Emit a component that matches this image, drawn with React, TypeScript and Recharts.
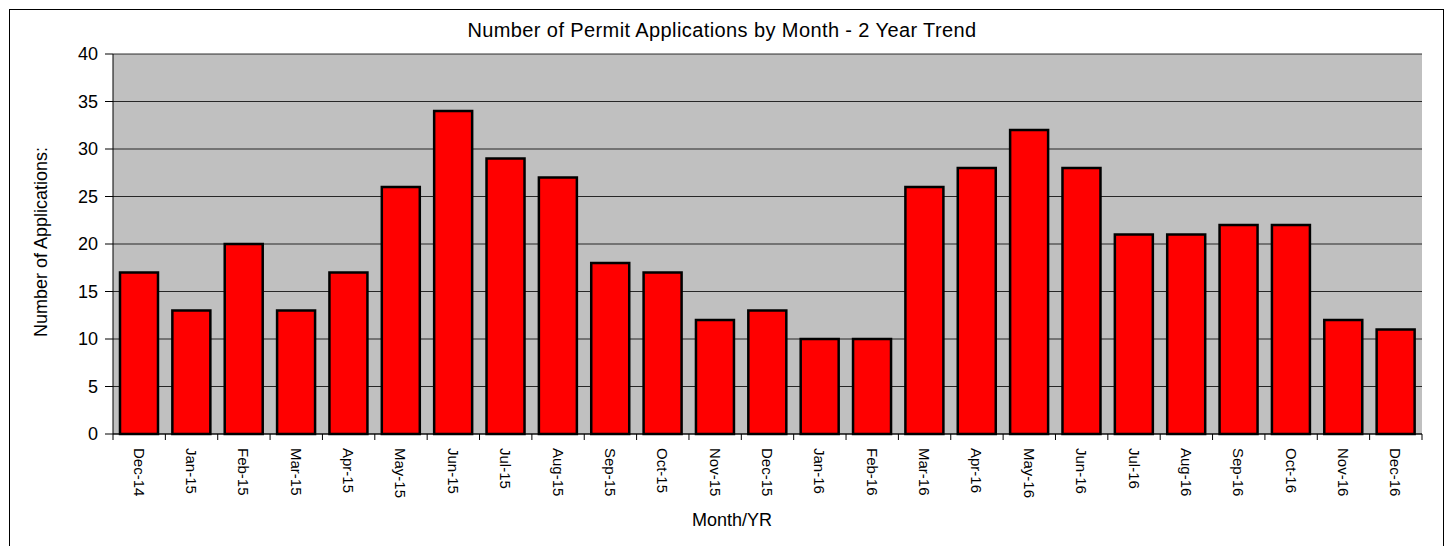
import React from "react";
import { BarChart, Bar, XAxis, YAxis, CartesianGrid } from "recharts";

const months = [
  "Dec-14", "Jan-15", "Feb-15", "Mar-15", "Apr-15", "May-15", "Jun-15", "Jul-15", "Aug-15",
  "Sep-15", "Oct-15", "Nov-15", "Dec-15", "Jan-16", "Feb-16", "Mar-16", "Apr-16", "May-16",
  "Jun-16", "Jul-16", "Aug-16", "Sep-16", "Oct-16", "Nov-16", "Dec-16",
];
const applications = [17, 13, 20, 13, 17, 26, 34, 29, 27, 18, 17, 12, 13, 10, 10, 26, 28, 32, 28, 21, 21, 22, 22, 12, 11];
const yTicks = [0, 5, 10, 15, 20, 25, 30, 35, 40];

const data = months.map((month, i) => ({ month, value: applications[i] }));

const W = 1447;
const H = 546;
const LEFT = 113;
const RIGHT = 25;
const BAND = (W - LEFT - RIGHT) / months.length;
const FONT = "'Liberation Sans', Arial, sans-serif";

// tick marks sit on category boundaries, labels read top-to-bottom
function MonthTick(props: any) {
  const { x, y, payload, index } = props;
  const axisY = y - 14;
  const half = BAND / 2;
  return (
    <g>
      <line x1={x - half} x2={x - half} y1={axisY} y2={axisY + 6} stroke="#000" />
      {index === months.length - 1 && (
        <line x1={x + half} x2={x + half} y1={axisY} y2={axisY + 6} stroke="#000" />
      )}
      <text
        x={x}
        y={y}
        transform={`rotate(90, ${x}, ${y})`}
        textAnchor="start"
        dominantBaseline="central"
        fontSize={15}
        fontFamily={FONT}
        fill="#000"
      >
        {payload.value}
      </text>
    </g>
  );
}

export default function App() {
  return (
    <div style={{ position: "absolute", left: 0, top: 0, width: W, height: H, overflow: "hidden", background: "#fff" }}>
      <div style={{ position: "absolute", left: 9, top: 9, width: 1433, height: 600, border: "1px solid #000" }} />
      <div style={{ position: "absolute", left: 0, top: 0 }}>
        <BarChart width={W} height={H} data={data} margin={{ top: 54, right: RIGHT, left: 0, bottom: 0 }}>
          <CartesianGrid fill="#C0C0C0" vertical={false} stroke="#000" strokeOpacity={0.8} />
          <XAxis
            dataKey="month"
            height={112}
            interval={0}
            tickLine={false}
            tickSize={7}
            tickMargin={7}
            axisLine={{ stroke: "#000" }}
            tick={<MonthTick />}
          />
          <XAxis xAxisId="top" orientation="top" dataKey="month" height={0} tick={false} tickLine={false} axisLine={{ stroke: "#808080", strokeWidth: 2 }} />
          <YAxis
            width={LEFT}
            domain={[0, 40]}
            ticks={yTicks}
            interval={0}
            tickSize={8}
            tickMargin={7}
            axisLine={{ stroke: "#000" }}
            tickLine={{ stroke: "#000" }}
            tick={{ fontSize: 18, fill: "#000", fontFamily: FONT }}
          />
          <YAxis yAxisId="right" orientation="right" width={0} domain={[0, 40]} tick={false} tickLine={false} axisLine={{ stroke: "#808080", strokeWidth: 2 }} />
          <Bar dataKey="value" fill="#FF0000" stroke="#000" strokeWidth={2.5} barSize={38} isAnimationActive={false} />
        </BarChart>
      </div>
      <svg width={W} height={H} style={{ position: "absolute", left: 0, top: 0, pointerEvents: "none" }}>
        <text x={722} y={37} textAnchor="middle" fontSize={20} letterSpacing={0.4} fontFamily={FONT} fill="#000">
          Number of Permit Applications by Month - 2 Year Trend
        </text>
        <text x={47} y={242} textAnchor="middle" fontSize={18} fontFamily={FONT} fill="#000" transform="rotate(-90, 47, 242)">
          Number of Applications:
        </text>
        <text x={732} y={526} textAnchor="middle" fontSize={18} fontFamily={FONT} fill="#000">
          Month/YR
        </text>
      </svg>
    </div>
  );
}
